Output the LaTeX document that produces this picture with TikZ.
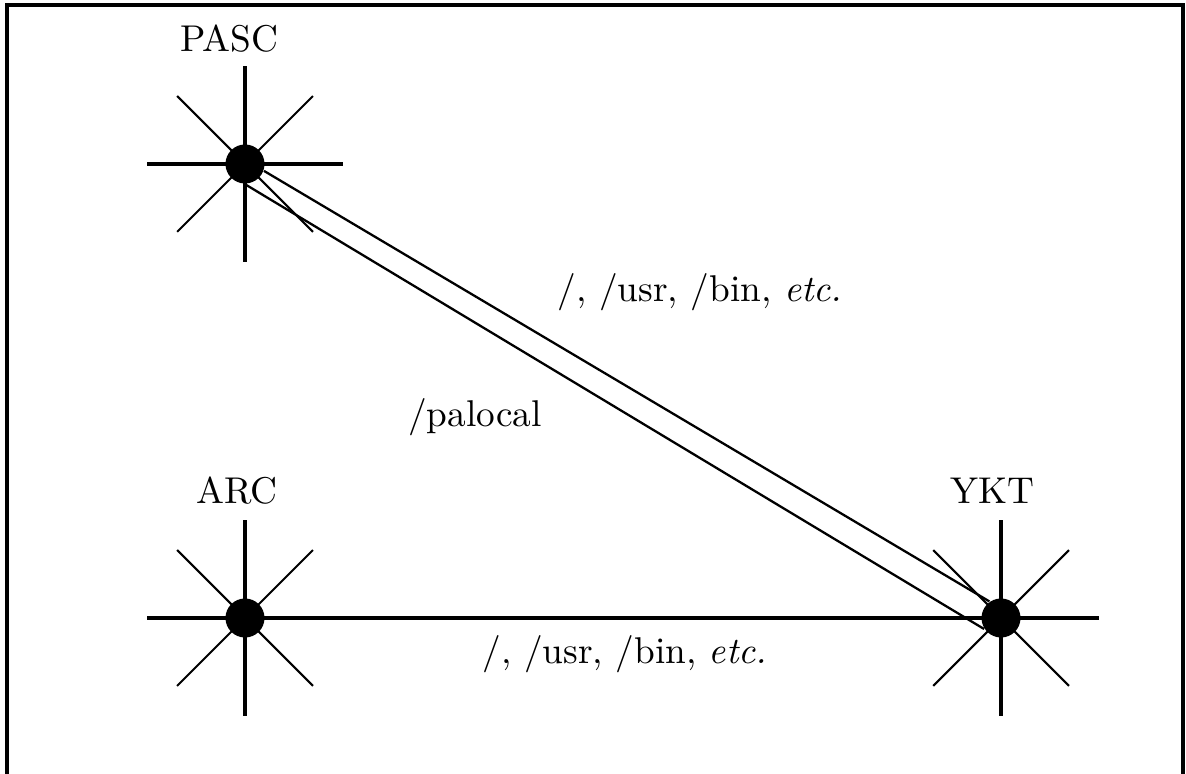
\documentclass[tikz,border=0pt]{standalone}
\begin{document}
\begin{tikzpicture}[x=0.01cm,y=-0.01cm,font=\fontsize{10.6}{12.7}\selectfont,
  hub/.style={circle,fill=black,inner sep=0pt,minimum size=0.39cm},
  axisray/.style={line width=.95pt},
  diagray/.style={line width=.6pt},
  link/.style={line width=.65pt}]
\useasboundingbox (0,0) rectangle (1186,774);
\draw[line width=.9pt] (7,774) -- (7,5) -- (1183,5) -- (1183,774);
% sites with their rays
\foreach \hubname/\hubpos in {pasc/{(245,164)},arc/{(245,618)},ykt/{(1001,618)}} {
  \foreach \a in {0,90,180,270} \draw[axisray] \hubpos -- ++(\a:98);
  \foreach \a in {45,135,225,315} \draw[diagray] \hubpos -- ++(\a:96);
  \node[hub] (\hubname) at \hubpos {};
}
\node[anchor=base] (pasclabel) at (229,52) {PASC};
\node[anchor=base] (arclabel) at (237,504) {ARC};
\node[anchor=base] (yktlabel) at (992,504) {YKT};
% links
\draw[axisray] (arc) -- (ykt);
\draw[link] (pasc.-20) -- (ykt.125);
\draw[link] (pasc.-90) -- (ykt.213);
\node[anchor=base] (upperfs) at (700,302) {/, /usr, /bin, \textit{etc.}};
\node[anchor=base] (lowerfs) at (625,663) {/, /usr, /bin, \textit{etc.}};
\node[anchor=base] (localfs) at (475,427) {/palocal};
\end{tikzpicture}
\end{document}
